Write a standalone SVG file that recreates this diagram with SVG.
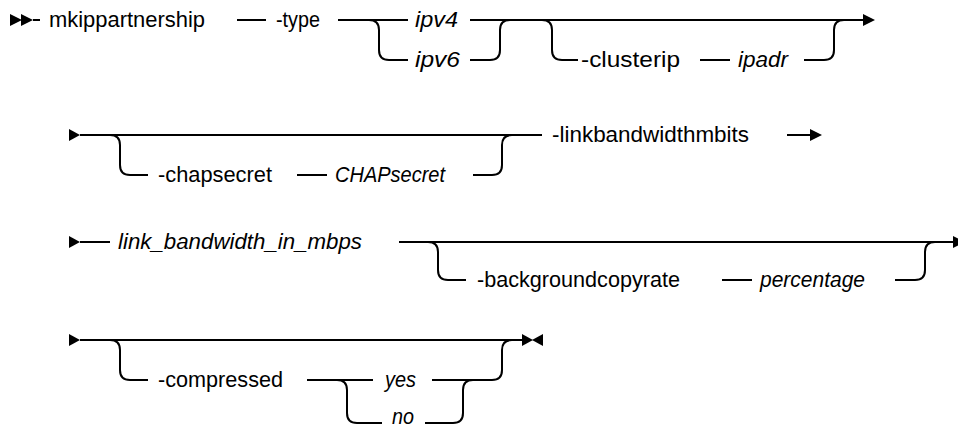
<svg xmlns="http://www.w3.org/2000/svg" width="958" height="430" viewBox="0 0 958 430">
<style>
.t{font-family:"Liberation Sans",Arial,sans-serif;font-size:22px;fill:#000}
.i{font-style:italic}
.l{fill:none;stroke:#000;stroke-width:2}
.a{fill:#000}
</style>
<rect width="958" height="430" fill="#fff"/>
<g id="connectors">
<path class="l" d="M33,20H40 M237,20H266 M338,20H408 M470,20H863"/>
<path class="l" d="M369,20Q379,20 379,30V50Q379,60 389,60H408"/>
<path class="l" d="M470,60H490Q500,60 500,50V30Q500,20 510,20"/>
<path class="l" d="M542,20Q552,20 552,30V50Q552,60 562,60H578"/>
<path class="l" d="M700,60H730"/>
<path class="l" d="M804,60H824Q834,60 834,50V30Q834,20 844,20"/>
<path class="l" d="M80,135H542 M787,135H810"/>
<path class="l" d="M110,135Q120,135 120,145V165Q120,175 130,175H148"/>
<path class="l" d="M297,175H327"/>
<path class="l" d="M473,175H492Q502,175 502,165V145Q502,135 512,135"/>
<path class="l" d="M80,242H110 M399,242H953"/>
<path class="l" d="M428,242Q438,242 438,252V270Q438,280 448,280H466"/>
<path class="l" d="M722,280H752"/>
<path class="l" d="M895,280H915Q925,280 925,270V252Q925,242 935,242"/>
<path class="l" d="M80,340H522"/>
<path class="l" d="M110,340Q120,340 120,350V370Q120,380 130,380H148"/>
<path class="l" d="M307,380H373 M432,380H492Q502,380 502,370V350Q502,340 512,340"/>
<path class="l" d="M337,380Q347,380 347,390V413Q347,423 357,423H382"/>
<path class="l" d="M425,423H453Q463,423 463,413V390Q463,380 473,380"/>
<polygon class="a" points="10,14 22,20 10,26"/>
<polygon class="a" points="21,14 33,20 21,26"/>
<polygon class="a" points="863,14 875,20 863,26"/>
<polygon class="a" points="69,129 80,135 69,141"/>
<polygon class="a" points="810,129 822,135 810,141"/>
<polygon class="a" points="69,236 80,242 69,248"/>
<polygon class="a" points="953,236 965,242 953,248"/>
<polygon class="a" points="69,334 80,340 69,346"/>
<polygon class="a" points="522,334 533,340 522,346"/>
<polygon class="a" points="543,334 532,340 543,346"/>
</g>
<g id="n-mkippartnership"><text class="t" x="49" y="27" textLength="156" lengthAdjust="spacingAndGlyphs">mkippartnership</text></g>
<g id="n-type"><text class="t" x="276" y="27" textLength="44" lengthAdjust="spacingAndGlyphs">-type</text></g>
<g id="n-ipv4"><text class="t i" x="415" y="27" textLength="43" lengthAdjust="spacingAndGlyphs">ipv4</text></g>
<g id="n-ipv6"><text class="t i" x="415" y="67" textLength="45" lengthAdjust="spacingAndGlyphs">ipv6</text></g>
<g id="n-clusterip"><text class="t" x="581" y="67" textLength="99" lengthAdjust="spacingAndGlyphs">-clusterip</text></g>
<g id="n-ipadr"><text class="t i" x="738" y="67" textLength="50" lengthAdjust="spacingAndGlyphs">ipadr</text></g>
<g id="n-chapsecret"><text class="t" x="158" y="182" textLength="114" lengthAdjust="spacingAndGlyphs">-chapsecret</text></g>
<g id="n-CHAPsecret"><text class="t i" x="335" y="182" textLength="110" lengthAdjust="spacingAndGlyphs">CHAPsecret</text></g>
<g id="n-linkbandwidthmbits"><text class="t" x="552" y="142" textLength="197" lengthAdjust="spacingAndGlyphs">-linkbandwidthmbits</text></g>
<g id="n-link_bandwidth_in_mbps"><text class="t i" x="118" y="249" textLength="244" lengthAdjust="spacingAndGlyphs">link_bandwidth_in_mbps</text></g>
<g id="n-backgroundcopyrate"><text class="t" x="477" y="287" textLength="203" lengthAdjust="spacingAndGlyphs">-backgroundcopyrate</text></g>
<g id="n-percentage"><text class="t i" x="760" y="287" textLength="105" lengthAdjust="spacingAndGlyphs">percentage</text></g>
<g id="n-compressed"><text class="t" x="158" y="387" textLength="125" lengthAdjust="spacingAndGlyphs">-compressed</text></g>
<g id="n-yes"><text class="t i" x="385" y="387" textLength="31" lengthAdjust="spacingAndGlyphs">yes</text></g>
<g id="n-no"><text class="t i" x="392" y="424" font-size="19" textLength="22" lengthAdjust="spacingAndGlyphs">no</text></g>
</svg>
